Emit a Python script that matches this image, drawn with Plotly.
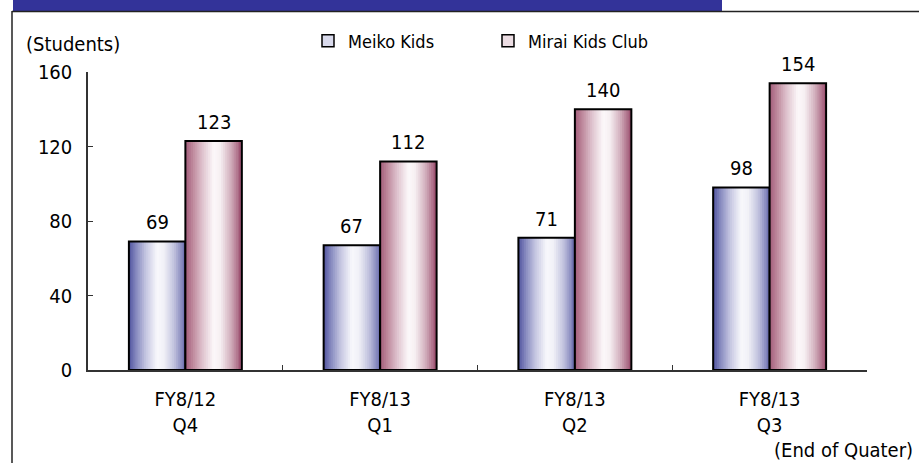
import plotly.graph_objects as go

categories = ["FY8/12<br>Q4", "FY8/13<br>Q1", "FY8/13<br>Q2", "FY8/13<br>Q3"]
meiko_kids = [69, 67, 71, 98]
mirai_kids_club = [123, 112, 140, 154]
series_names = ["Meiko Kids", "Mirai Kids Club"]
y_ticks = [0, 40, 80, 120, 160]

FONT = "Liberation Sans Narrow, DejaVu Sans Condensed, Arial Narrow, sans-serif"

W, H = 919, 463
L, R, T, B = 88, 52, 72, 93
PW, PH = W - L - R, H - T - B


def px_x(px):
    return (px - L) / PW


def px_y(py):
    return (H - B - py) / PH


def hex2rgb(h):
    h = h.lstrip("#")
    return tuple(int(h[i:i + 2], 16) for i in (0, 2, 4))


def interp(stops, t):
    for (p0, c0), (p1, c1) in zip(stops[:-1], stops[1:]):
        if p0 <= t <= p1:
            f = 0 if p1 == p0 else (t - p0) / (p1 - p0)
            a, b = hex2rgb(c0), hex2rgb(c1)
            return "rgb(%d,%d,%d)" % tuple(round(a[i] + (b[i] - a[i]) * f) for i in range(3))
    return stops[-1][1]


blue_stops = [(0.0, "#4f529e"), (0.12, "#8386bd"), (0.3, "#c5c6e1"), (0.5, "#f8f8fc"),
              (0.62, "#f1f1f7"), (0.8, "#c1c2de"), (1.0, "#6b6eae")]
maroon_stops = [(0.0, "#a35c7a"), (0.12, "#bc8599"), (0.3, "#dec2cd"), (0.5, "#fcf8fa"),
                (0.62, "#f6eff2"), (0.8, "#d3b0be"), (1.0, "#9b4e6e")]

BW = 0.29
N = 30
fig = go.Figure()
annotations = []

for vals, stops, off, name, legcol in [
    (meiko_kids, blue_stops, -BW, series_names[0], "#d9daec"),
    (mirai_kids_club, maroon_stops, 0.0, series_names[1], "#ecdde3"),
]:
    for i in range(N):
        t = (i + 0.5) / N
        start = off + BW * i / N
        fig.add_trace(go.Bar(
            x=categories, y=vals, width=BW - BW * i / N, offset=start,
            marker=dict(color=interp(stops, t), line=dict(width=0)),
            showlegend=False, hoverinfo="skip"))
    fig.add_trace(go.Bar(
        x=categories, y=vals, width=BW, offset=off, name=name,
        marker=dict(color="rgba(0,0,0,0)", line=dict(color="black", width=2)),
        showlegend=False))
    # legend entry
    fig.add_trace(go.Bar(
        x=[categories[0]], y=[None], name=name,
        marker=dict(color=legcol, line=dict(color="black", width=1.5)),
        showlegend=True))
    # value labels
    xshift = (off + BW / 2) * (PW / len(categories))
    for c, v in zip(categories, vals):
        annotations.append(dict(
            x=c, y=v, xref="x", yref="y", text=str(v), showarrow=False,
            xanchor="center", yanchor="bottom", xshift=xshift, yshift=5,
            font=dict(size=20, color="black", family=FONT)))

shapes = [
    dict(type="rect", xref="paper", yref="paper", x0=px_x(13), x1=px_x(722),
         y0=px_y(11), y1=px_y(-2), fillcolor="#333399", line=dict(width=0), layer="below"),
    dict(type="line", xref="paper", yref="paper", x0=px_x(12), x1=px_x(925),
         y0=px_y(11.5), y1=px_y(11.5), line=dict(color="#222", width=1.5)),
    dict(type="line", xref="paper", yref="paper", x0=px_x(12), x1=px_x(12),
         y0=px_y(11), y1=px_y(470), line=dict(color="#222", width=1.5)),
]

annotations += [
    dict(text="(Students)", xref="paper", yref="paper", x=px_x(24), y=px_y(44),
         xanchor="left", yanchor="middle", showarrow=False,
         font=dict(size=20, color="black", family=FONT)),
    dict(text="(End of Quater)", xref="paper", yref="paper", x=px_x(915), y=px_y(450),
         xanchor="right", yanchor="middle", showarrow=False,
         font=dict(size=20, color="black", family=FONT)),
]

fig.update_layout(
    width=W, height=H, autosize=False,
    margin=dict(l=L, r=R, t=T, b=B, pad=0),
    paper_bgcolor="white", plot_bgcolor="white",
    barmode="overlay",
    font=dict(family=FONT, size=20, color="black"),
    shapes=shapes, annotations=annotations,
    showlegend=True,
    legend=dict(orientation="h", x=px_x(308), y=px_y(41), xanchor="left", yanchor="middle",
                entrywidth=135, entrywidthmode="pixels", bgcolor="rgba(0,0,0,0)",
                font=dict(size=18, family=FONT), traceorder="normal"),
    xaxis=dict(type="category", tickson="boundaries", ticks="inside", ticklen=5,
               tickcolor="#333", showline=True, linecolor="#333", linewidth=1.5,
               showgrid=False, zeroline=False, ticklabelstandoff=10,
               tickfont=dict(size=20, family=FONT)),
    yaxis=dict(range=[0, 160], tickvals=y_ticks, ticks="inside", ticklen=5,
               tickcolor="#333", showline=True, linecolor="#333", linewidth=1.5,
               showgrid=False, zeroline=False, ticklabelstandoff=10,
               tickfont=dict(size=20, family=FONT)),
)

fig.write_html("out.html")
